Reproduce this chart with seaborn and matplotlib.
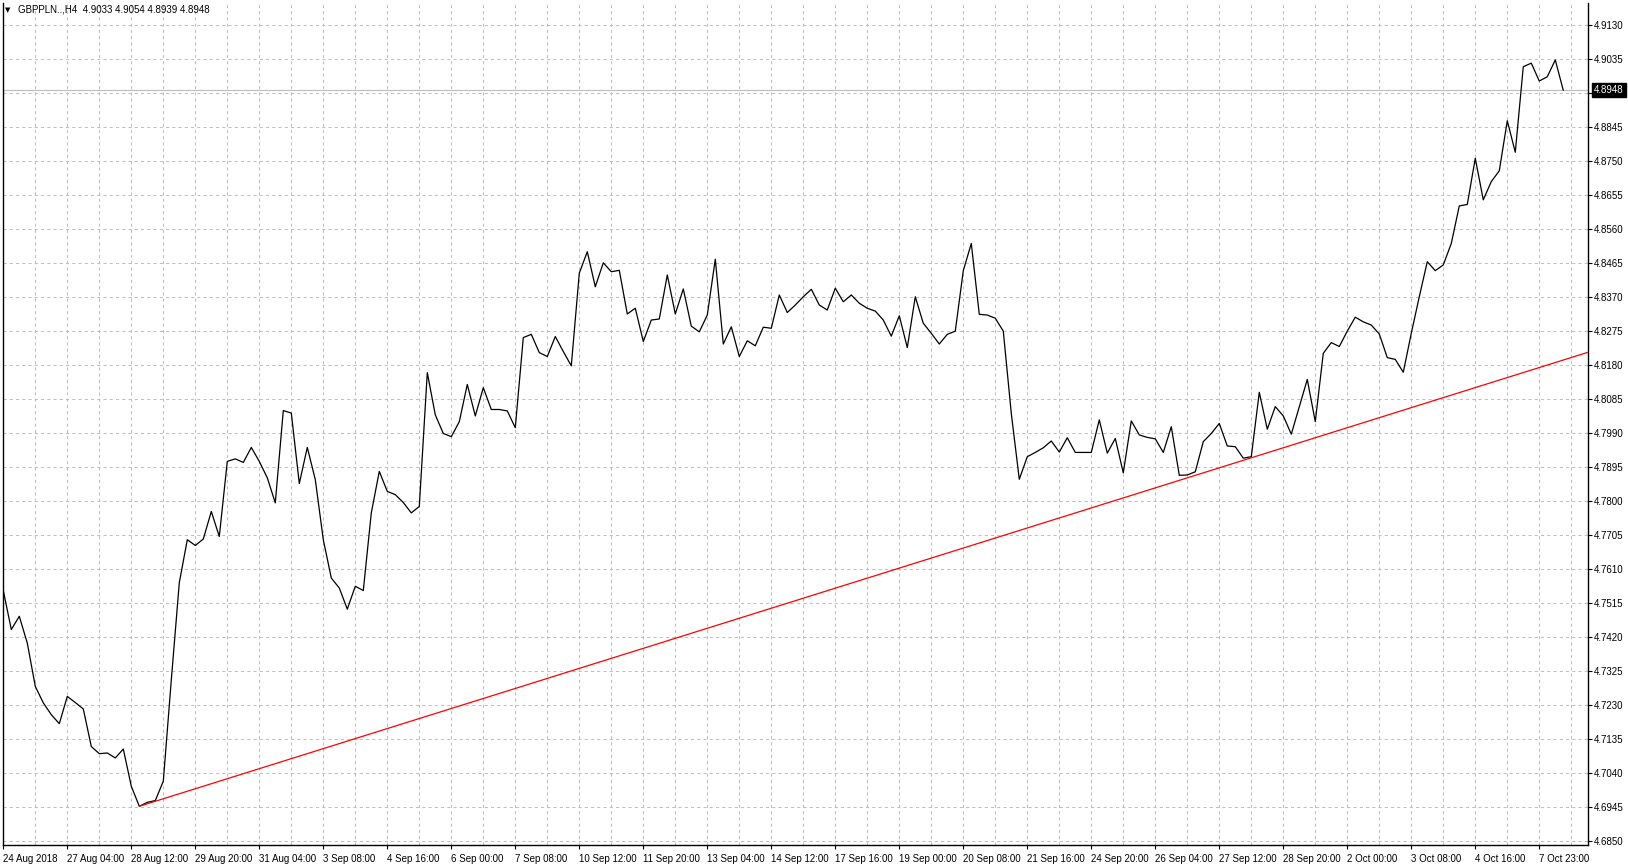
import numpy as np
import pandas as pd
import matplotlib
matplotlib.use("Agg")
import matplotlib.pyplot as plt
import matplotlib.transforms as mtransforms
import seaborn as sns

# H4 closes, GBPPLN, 24 Aug - 8 Oct 2018
closes = [
    4.7550, 4.7441, 4.7478, 4.7403, 4.7282, 4.7236, 4.7203, 4.7178, 4.7254, 4.7237,
    4.7219, 4.7114, 4.7094, 4.7096, 4.7082, 4.7107, 4.7003, 4.6947, 4.6958, 4.6963,
    4.7017, 4.7300, 4.7572, 4.7692, 4.7676, 4.7694, 4.7771, 4.7701, 4.7911, 4.7918,
    4.7908, 4.7950, 4.7911, 4.7865, 4.7795, 4.8053, 4.8046, 4.7849, 4.7950, 4.7860,
    4.7692, 4.7585, 4.7557, 4.7498, 4.7562, 4.7550, 4.7767, 4.7883, 4.7827, 4.7818,
    4.7796, 4.7767, 4.7785, 4.8159, 4.8041, 4.7989, 4.7980, 4.8022, 4.8126, 4.8038,
    4.8117, 4.8056, 4.8056, 4.8052, 4.8005, 4.8257, 4.8266, 4.8215, 4.8204, 4.8260,
    4.8218, 4.8178, 4.8437, 4.8497, 4.8399, 4.8466, 4.8441, 4.8445, 4.8323, 4.8339,
    4.8246, 4.8306, 4.8309, 4.8432, 4.8323, 4.8393, 4.8289, 4.8273, 4.8320, 4.8476,
    4.8239, 4.8287, 4.8204, 4.8248, 4.8234, 4.8286, 4.8283, 4.8376, 4.8327, 4.8348,
    4.8371, 4.8392, 4.8348, 4.8334, 4.8395, 4.8357, 4.8376, 4.8353, 4.8339, 4.8331,
    4.8306, 4.8261, 4.8318, 4.8229, 4.8371, 4.8297, 4.8269, 4.8239, 4.8266, 4.8275,
    4.8444, 4.8520, 4.8322, 4.8320, 4.8311, 4.8275, 4.8045, 4.7861, 4.7924, 4.7936,
    4.7949, 4.7968, 4.7937, 4.7977, 4.7936, 4.7936, 4.7936, 4.8027, 4.7934, 4.7975,
    4.7879, 4.8024, 4.7985, 4.7978, 4.7974, 4.7936, 4.8008, 4.7872, 4.7873, 4.7882,
    4.7966, 4.7989, 4.8017, 4.7954, 4.7952, 4.7920, 4.7924, 4.8104, 4.8001, 4.8064,
    4.8038, 4.7987, 4.8064, 4.8140, 4.8022, 4.8213, 4.8243, 4.8232, 4.8275, 4.8314,
    4.8301, 4.8292, 4.8267, 4.8201, 4.8196, 4.8160, 4.8269, 4.8371, 4.8469, 4.8444,
    4.8460, 4.8520, 4.8625, 4.8629, 4.8758, 4.8642, 4.8693, 4.8723, 4.8863, 4.8775,
    4.9014, 4.9024, 4.8974, 4.8986, 4.9033, 4.8948,
]

time_labels = [
    "24 Aug 2018", "27 Aug 04:00", "28 Aug 12:00", "29 Aug 20:00", "31 Aug 04:00",
    "3 Sep 08:00", "4 Sep 16:00", "6 Sep 00:00", "7 Sep 08:00", "10 Sep 12:00",
    "11 Sep 20:00", "13 Sep 04:00", "14 Sep 12:00", "17 Sep 16:00", "19 Sep 00:00",
    "20 Sep 08:00", "21 Sep 16:00", "24 Sep 20:00", "26 Sep 04:00", "27 Sep 12:00",
    "28 Sep 20:00", "2 Oct 00:00", "3 Oct 08:00", "4 Oct 16:00", "7 Oct 23:00",
]

price_ticks = [round(4.6850 + 0.0095 * k, 4) for k in range(25)]

# trendline anchors (bar index, price)
trend_x = [17, 156]
trend_y = [4.6947, 4.7921]

last_price = 4.8948
header = "GBPPLN..,H4  4.9033 4.9054 4.8939 4.8948"

df = pd.DataFrame({"bar": np.arange(len(closes)), "close": closes})

sns.set_style("white")
plt.rcParams["font.family"] = ["Liberation Sans", "DejaVu Sans"]

W, H = 1628, 866
fig = plt.figure(figsize=(W / 100, H / 100), dpi=100)
ax = fig.add_axes([2.5 / W, 1 - 845 / H, (1588 - 2.5) / W, (845 - 3) / H])

xmin, xmax = -0.1, 198.09
ymin, ymax = 4.68388, 4.91921

# grid
for gx in range(4, 199, 4):
    ax.axvline(gx, color="#c0c0c0", lw=0.75, ls=(0, (3, 3)), zorder=0)
for gy in price_ticks:
    ax.axhline(gy, color="#c0c0c0", lw=0.75, ls=(0, (3, 3)), zorder=0)

# current price line
ax.axhline(last_price, color="#c0c0c0", lw=0.9, zorder=1)

sns.lineplot(data=df, x="bar", y="close", color="black", lw=0.9, ax=ax, zorder=3)

# trendline as ray to the right edge
slope = (trend_y[1] - trend_y[0]) / (trend_x[1] - trend_x[0])
ax.plot([trend_x[0], xmax], [trend_y[0], trend_y[0] + slope * (xmax - trend_x[0])],
        color="red", lw=0.9, zorder=4)

ax.set_xlim(xmin, xmax)
ax.set_ylim(ymin, ymax)
ax.set_xlabel("")
ax.set_ylabel("")

ax.set_xticks(np.arange(0, 8 * len(time_labels), 8))
ax.set_xticklabels(time_labels)
for lbl in ax.get_xticklabels():
    lbl.set_horizontalalignment("left")

ax.yaxis.tick_right()
ax.set_yticks(price_ticks)
# the label under the current price tag is hidden, as in the terminal
ax.set_yticklabels(["" if abs(p - last_price) < 0.002 else f"{p:.4f}" for p in price_ticks])

ax.tick_params(axis="x", direction="out", length=3, width=0.8, pad=3.5,
               labelsize=7, colors="black", bottom=True)
ax.tick_params(axis="y", direction="out", length=3, width=0.8, pad=1.5,
               labelsize=7, colors="black", right=True, left=False)

for side in ["left", "bottom", "right"]:
    ax.spines[side].set_color("black")
    ax.spines[side].set_linewidth(1.0)
ax.spines["top"].set_visible(False)

# current price tag
tag_tr = ax.get_yaxis_transform() + mtransforms.ScaledTranslation(6 / 100, 0, fig.dpi_scale_trans)
ax.text(1.0, last_price, f"{last_price:.4f}", transform=tag_tr,
        ha="left", va="center", fontsize=7, color="white",
        bbox=dict(boxstyle="square,pad=0.2", fc="black", ec="black"), zorder=6,
        clip_on=False)

fig.text(5 / W, 1 - 10 / H, "\u25bc", fontsize=5, va="center", ha="left",
         color="black", family=["DejaVu Sans"])
fig.text(18 / W, 1 - 10 / H, header, fontsize=7, va="center", ha="left",
         color="black")

fig.savefig("out.png", dpi=100, facecolor="white")
